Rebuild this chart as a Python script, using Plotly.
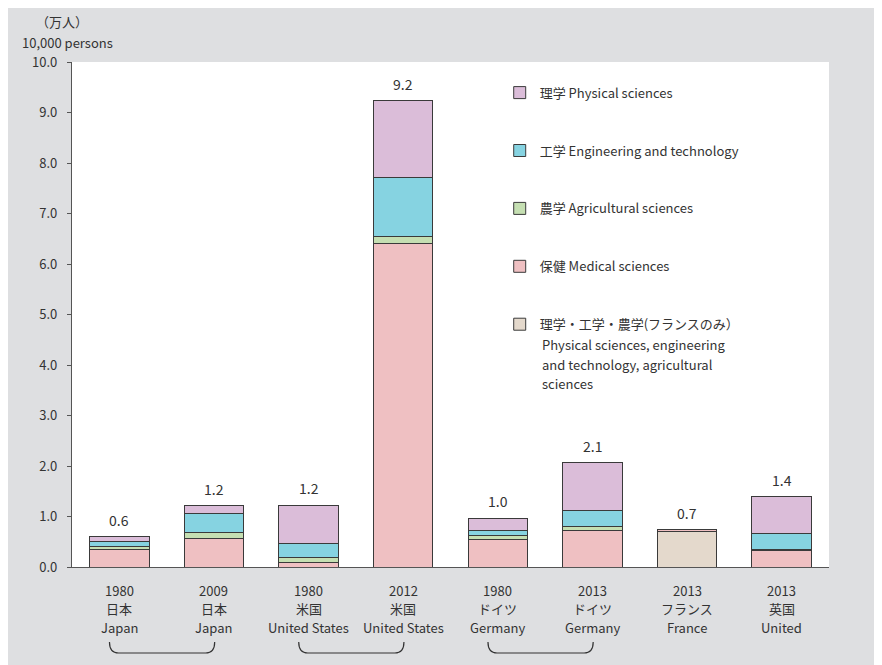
import plotly.graph_objects as go

categories = ["1980 日本", "2009 日本", "1980 米国", "2012 米国",
              "1980 ドイツ", "2013 ドイツ", "2013 フランス", "2013 英国"]
label_years = ["1980", "2009", "1980", "2012", "1980", "2013", "2013", "2013"]
label_jp = ["日本", "日本", "米国", "米国", "ドイツ", "ドイツ", "フランス", "英国"]
label_en = ["Japan", "Japan", "United States", "United States",
            "Germany", "Germany", "France", "United"]

france_combined = [0, 0, 0, 0, 0, 0, 0.71, 0]
medical = [0.35, 0.57, 0.08, 6.41, 0.55, 0.73, 0.03, 0.32]
agricultural = [0.05, 0.12, 0.10, 0.14, 0.07, 0.08, 0.0, 0.02]
engineering = [0.11, 0.37, 0.29, 1.16, 0.10, 0.31, 0.0, 0.32]
physical = [0.09, 0.15, 0.75, 1.52, 0.25, 0.94, 0.0, 0.73]

y_ticks = [0, 1, 2, 3, 4, 5, 6, 7, 8, 9, 10]

france_note = ["Physical sciences, engineering", "and technology, agricultural", "sciences"]

FONT = "Noto Sans CJK JP, Noto Sans, sans-serif"
TXT = "#333333"
series = [
    ("理学・工学・農学(フランスのみ）", france_combined, "#E4D9CC", 5),
    ("保健 Medical sciences", medical, "#EFC0C2", 4),
    ("農学 Agricultural sciences", agricultural, "#C5DFB2", 3),
    ("工学 Engineering and technology", engineering, "#86D3E1", 2),
    ("理学 Physical sciences", physical, "#DBBDD9", 1),
]

# plot area in screen pixels (figure is drawn 8px from page edge)
PL, PR, PT, PB = 72, 829, 62, 567
PW, PH = PR - PL, PB - PT


def px_x(p):
    return (p - PL) / PW


def px_y(p):
    return (PB - p) / PH


fig = go.Figure()
for name, vals, color, rank in series:
    fig.add_trace(go.Bar(
        x=categories, y=vals, name=name, legendrank=rank, legendgroup=name,
        marker=dict(color=color, line=dict(color="#3a3a3a", width=1)),
        width=0.63, hoverinfo="skip",
    ))

totals = [sum(v) for v in zip(france_combined, medical, agricultural, engineering, physical)]
for c, t in zip(categories, totals):
    fig.add_annotation(x=c, y=t, text=f"{t:.1f}", showarrow=False,
                       yanchor="bottom", yshift=5,
                       font=dict(size=14, color=TXT, family=FONT))

# multi-line category labels
for c, yr, jp, en in zip(categories, label_years, label_jp, label_en):
    for txt, py in [(yr, 590), (jp, 608), (en, 627)]:
        fig.add_annotation(x=c, xref="x", yref="paper", y=px_y(py), text=txt,
                           showarrow=False, xanchor="center", yanchor="middle",
                           font=dict(size=13, color=TXT, family=FONT))

# brackets below the paired categories
n = len(categories)
for i0, i1 in [(0, 1), (2, 3), (4, 5)]:
    xa = (i0 + 0.5) / n - 0.013
    xb = (i1 + 0.5) / n + 0.001
    ya = px_y(642)
    yb = px_y(653)
    dx = 0.012
    path = (f"M {xa},{ya} Q {xa},{yb} {xa+dx},{yb} L {xb-dx},{yb} "
            f"Q {xb},{yb} {xb},{ya}")
    fig.add_shape(type="path", xref="paper", yref="paper", path=path,
                  line=dict(color="#333333", width=1.2))

fig.add_annotation(xref="paper", yref="paper", x=px_x(62), y=px_y(22),
                   text="（万人）", showarrow=False, xanchor="center", yanchor="middle",
                   font=dict(size=13, color=TXT, family=FONT))
fig.add_annotation(xref="paper", yref="paper", x=px_x(67), y=px_y(43),
                   text="10,000 persons", showarrow=False, xanchor="center", yanchor="middle",
                   font=dict(size=13, color=TXT, family=FONT))

for txt, py in zip(france_note, [344, 364, 383]):
    fig.add_annotation(xref="paper", yref="paper", x=px_x(540), y=px_y(py),
                       text=txt, showarrow=False, xanchor="left", yanchor="middle",
                       font=dict(size=13, color=TXT, family=FONT))

fig.update_layout(
    width=882, height=665,
    margin=dict(l=PL - 8, r=882 - (PR - 8), t=PT - 8, b=665 - (PB - 8)),
    paper_bgcolor="#DEDFE1", plot_bgcolor="white",
    barmode="stack", bargap=0.37,
    font=dict(family=FONT, color=TXT, size=12),
    showlegend=True,
    legend=dict(x=0.565, y=0.969, xanchor="left", yanchor="top",
                traceorder="grouped", tracegroupgap=38, valign="top",
                bgcolor="rgba(0,0,0,0)", font=dict(size=13, color=TXT, family=FONT)),
    xaxis=dict(tickmode="array", tickvals=categories, ticktext=[""] * len(categories),
               showline=True, linecolor="#555555", linewidth=1.2, ticks="",
               showgrid=False),
    yaxis=dict(range=[0, 10], tickvals=y_ticks, tickformat=".1f",
               showline=True, linecolor="#555555", linewidth=1.2,
               ticks="outside", ticklen=4, tickcolor="#555555",
               showgrid=False, zeroline=False, ticklabelstandoff=7,
               tickfont=dict(size=13, color=TXT, family=FONT)),
)

fig.write_html("out.html")
